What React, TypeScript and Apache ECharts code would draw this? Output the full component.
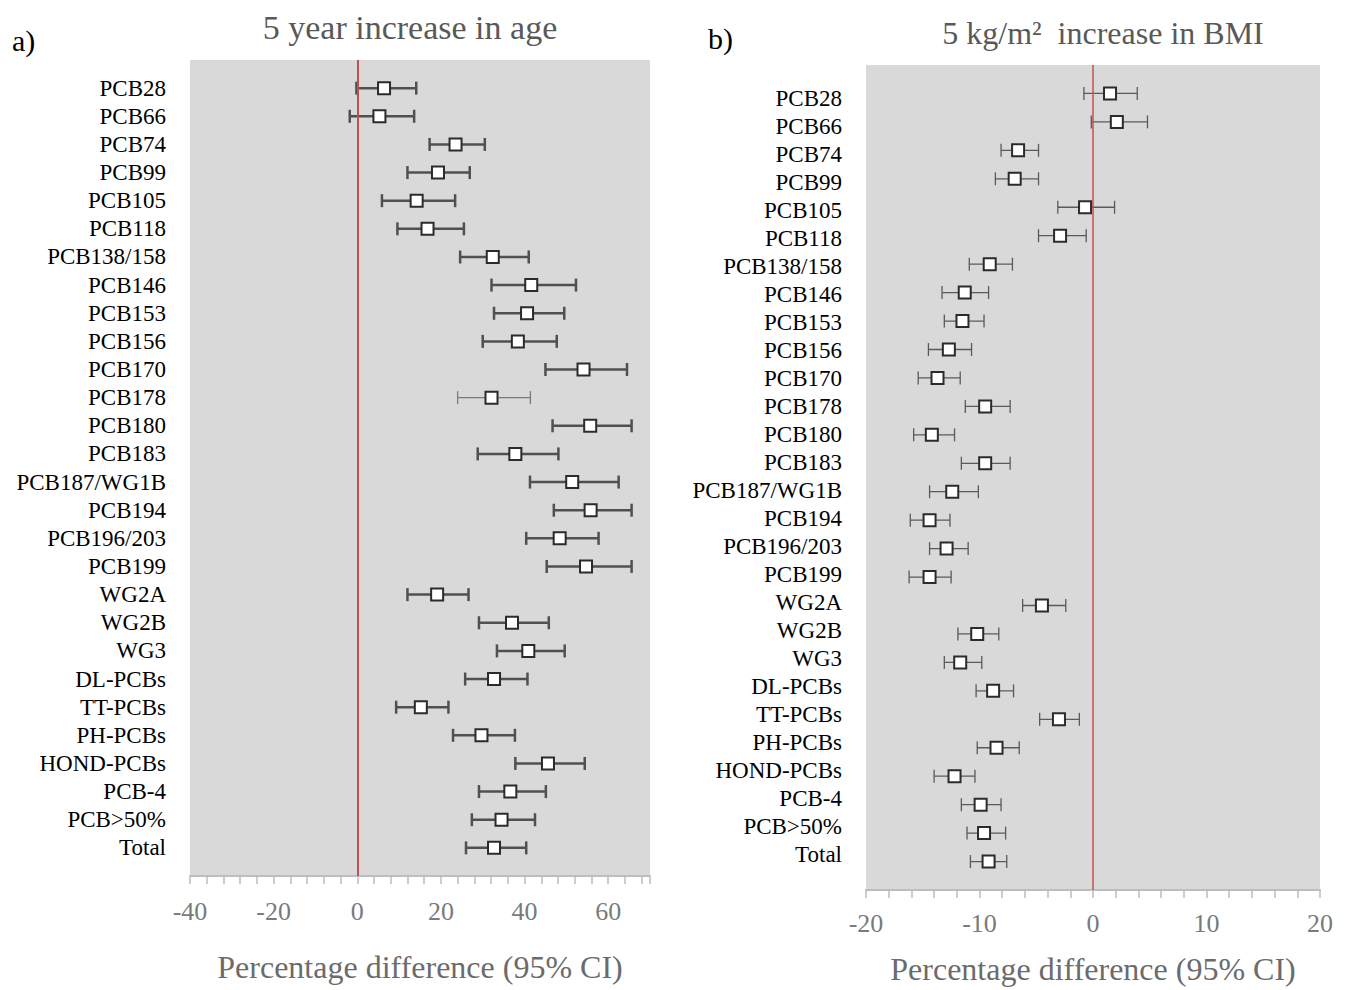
import React, { useEffect, useRef } from "react";
import * as echarts from "echarts";

const categories = [
  "PCB28", "PCB66", "PCB74", "PCB99", "PCB105", "PCB118", "PCB138/158", "PCB146",
  "PCB153", "PCB156", "PCB170", "PCB178", "PCB180", "PCB183", "PCB187/WG1B", "PCB194",
  "PCB196/203", "PCB199", "WG2A", "WG2B", "WG3", "DL-PCBs", "TT-PCBs", "PH-PCBs",
  "HOND-PCBs", "PCB-4", "PCB>50%", "Total",
];

const ageEst = [6.4, 5.3, 23.5, 19.3, 14.2, 16.8, 32.4, 41.6, 40.6, 38.4, 54.1, 32.1, 55.7, 37.8, 51.4, 55.8, 48.4, 54.7, 19.1, 37.0, 40.9, 32.7, 15.2, 29.7, 45.6, 36.6, 34.5, 32.7];
const ageLow = [-0.2, -1.8, 17.3, 12.0, 5.9, 9.6, 24.6, 32.1, 32.7, 30.0, 45.0, 24.0, 46.7, 28.8, 41.3, 47.0, 40.4, 45.3, 12.0, 29.1, 33.4, 25.8, 9.3, 22.9, 37.8, 29.1, 27.4, 26.0];
const ageHigh = [14.1, 13.6, 30.5, 26.9, 23.4, 25.5, 41.0, 52.3, 49.5, 47.7, 64.5, 41.4, 65.6, 48.1, 62.5, 65.6, 57.7, 65.6, 26.6, 45.8, 49.6, 40.7, 21.8, 37.7, 54.4, 45.1, 42.5, 40.4];

const bmiEst = [1.5, 2.1, -6.6, -6.9, -0.7, -2.9, -9.1, -11.3, -11.5, -12.7, -13.7, -9.5, -14.2, -9.5, -12.4, -14.4, -12.9, -14.4, -4.5, -10.2, -11.7, -8.8, -3.0, -8.5, -12.2, -9.9, -9.6, -9.2];
const bmiLow = [-0.8, -0.15, -8.1, -8.6, -3.1, -4.8, -10.9, -13.3, -13.1, -14.5, -15.4, -11.25, -15.8, -11.6, -14.4, -16.1, -14.4, -16.2, -6.2, -11.9, -13.1, -10.3, -4.7, -10.2, -14.0, -11.6, -11.1, -10.8];
const bmiHigh = [3.9, 4.8, -4.8, -4.8, 1.9, -0.6, -7.1, -9.2, -9.6, -10.7, -11.7, -7.3, -12.2, -7.3, -10.1, -12.6, -11.0, -12.5, -2.4, -8.3, -9.8, -7.0, -1.2, -6.5, -10.4, -8.1, -7.7, -7.6];

// rows whose CI bar is drawn with a thinner, lighter stroke in panel a)
const ageThinRows = ["PCB178"];

const ageTicks = { min: -40, max: 70, interval: 20 };
const bmiTicks = { min: -20, max: 20, interval: 10 };

const FONT = "'Liberation Serif', 'DejaVu Serif', serif";

function makeRender(barColor: string, barWidth: number, capHalf: number, thin: string[]) {
  return (params: any, api: any) => {
    const idx = api.value(3);
    const p1 = api.coord([api.value(0), idx]);
    const p2 = api.coord([api.value(1), idx]);
    const pm = api.coord([api.value(2), idx]);
    const isThin = thin.indexOf(categories[idx]) >= 0;
    const ls = isThin ? { stroke: "#7a7a7a", lineWidth: 1.3 } : { stroke: barColor, lineWidth: barWidth };
    const half = 6;
    return {
      type: "group",
      children: [
        { type: "line", shape: { x1: p1[0], y1: p1[1], x2: p2[0], y2: p2[1] }, style: ls },
        { type: "line", shape: { x1: p1[0], y1: p1[1] - capHalf, x2: p1[0], y2: p1[1] + capHalf }, style: ls },
        { type: "line", shape: { x1: p2[0], y1: p2[1] - capHalf, x2: p2[0], y2: p2[1] + capHalf }, style: ls },
        {
          type: "rect",
          shape: { x: pm[0] - half, y: pm[1] - half, width: half * 2, height: half * 2 },
          style: { fill: "#ffffff", stroke: "#2b2b2b", lineWidth: 2 },
        },
      ],
    };
  };
}

function xAxisCfg(gridIndex: number, t: any, nameGap: number, margin: number) {
  return {
    gridIndex,
    type: "value",
    min: t.min,
    max: t.max,
    interval: t.interval,
    axisLine: { show: true, onZero: false, lineStyle: { color: "#bdbdbd", width: 2 } },
    axisTick: { show: true, length: 8, lineStyle: { color: "#bdbdbd", width: 1.5 } },
    minorTick: { show: true, splitNumber: 5, length: 8, lineStyle: { color: "#bdbdbd", width: 1.5 } },
    splitLine: { show: false },
    axisLabel: { fontSize: 26, color: "#7a7a7a", margin, fontFamily: FONT, showMaxLabel: t.max % t.interval === 0 },
    name: "Percentage difference (95% CI)",
    nameLocation: "middle",
    nameGap,
    nameTextStyle: { fontSize: 32, color: "#6b6b6b", fontFamily: FONT },
  };
}

function yAxisCfg(gridIndex: number, showLabels: boolean) {
  return {
    gridIndex,
    type: "value",
    min: -1,
    max: 28,
    interval: 1,
    inverse: true,
    axisLine: { show: false, onZero: false },
    axisTick: { show: false },
    splitLine: { show: false },
    axisLabel: {
      show: showLabels,
      fontSize: 23,
      color: "#000000",
      margin: 24,
      fontFamily: FONT,
      formatter: (v: number) => categories[Math.round(v)] ?? "",
    },
  };
}

const redLine = (width: number) => ({
  silent: true,
  symbol: "none",
  label: { show: false },
  lineStyle: { color: "#c0504d", width, type: "solid" },
  data: [{ xAxis: 0 }],
});

export default function App() {
  const ref = useRef<HTMLDivElement>(null);
  useEffect(() => {
    if (!ref.current) return;
    const chart = echarts.init(ref.current, null, { renderer: "svg" });
    const ageData = categories.map((c, i) => [ageLow[i], ageHigh[i], ageEst[i], i]);
    const bmiData = categories.map((c, i) => [bmiLow[i], bmiHigh[i], bmiEst[i], i]);
    chart.setOption({
      animation: false,
      backgroundColor: "#ffffff",
      textStyle: { fontFamily: FONT },
      grid: [
        { left: 190, top: 60, width: 460, height: 816, show: true, backgroundColor: "#d9d9d9", borderWidth: 0 },
        { left: 866, top: 65, width: 454, height: 828, show: true, backgroundColor: "#d9d9d9", borderWidth: 0 },
        { left: 866, top: 70, width: 454, height: 813, show: false },
      ],
      xAxis: [
        xAxisCfg(0, ageTicks, 75, 22),
        xAxisCfg(1, bmiTicks, 63, 20),
        { gridIndex: 2, type: "value", min: -20, max: 20, show: false },
      ],
      yAxis: [yAxisCfg(0, true), yAxisCfg(1, false), yAxisCfg(2, true)],
      graphic: [
        { type: "text", x: 12, y: 40, style: { text: "a)", fontSize: 30, fontFamily: FONT, fill: "#000", verticalAlign: "middle", textVerticalAlign: "middle" } },
        { type: "text", x: 410, y: 27, style: { text: "5 year increase in age", fontSize: 34, fontFamily: FONT, fill: "#595959", align: "center", textAlign: "center", verticalAlign: "middle", textVerticalAlign: "middle" } },
        { type: "text", x: 708, y: 38, style: { text: "b)", fontSize: 30, fontFamily: FONT, fill: "#000", verticalAlign: "middle", textVerticalAlign: "middle" } },
        { type: "text", x: 1103, y: 33, style: { text: "5 kg/m²  increase in BMI", fontSize: 32, fontFamily: FONT, fill: "#595959", align: "center", textAlign: "center", verticalAlign: "middle", textVerticalAlign: "middle" } },
      ],
      series: [
        {
          type: "custom",
          name: "age",
          xAxisIndex: 0,
          yAxisIndex: 0,
          renderItem: makeRender("#505050", 2.5, 6.5, ageThinRows),
          encode: { x: [0, 1, 2], y: 3 },
          data: ageData,
          markLine: redLine(2),
          z: 3,
        },
        {
          type: "custom",
          name: "bmi",
          xAxisIndex: 1,
          yAxisIndex: 1,
          renderItem: makeRender("#5a5a5a", 1.3, 6.5, []),
          encode: { x: [0, 1, 2], y: 3 },
          data: bmiData,
          markLine: redLine(1.5),
          z: 3,
        },
      ],
    });
    return () => chart.dispose();
  }, []);
  return <div ref={ref} style={{ position: "absolute", left: 0, top: 0, width: 1350, height: 990 }} />;
}
